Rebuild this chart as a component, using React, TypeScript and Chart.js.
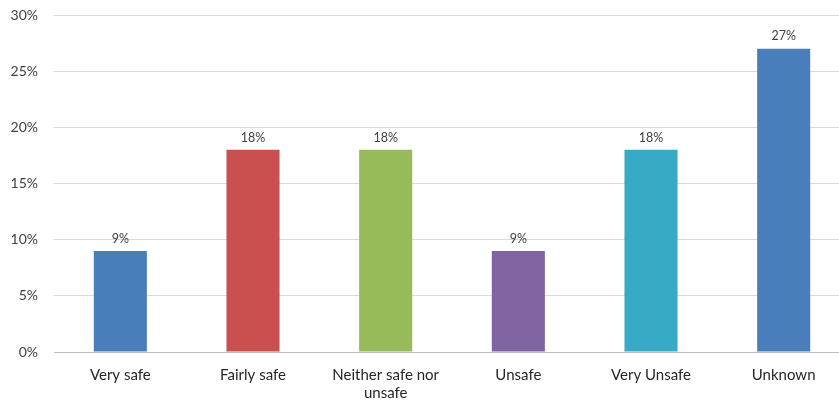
import React, { useEffect, useRef } from "react";
import { Chart, registerables } from "chart.js";

Chart.register(...registerables);

const categories: (string | string[])[] = [
  "Very safe",
  "Fairly safe",
  ["Neither safe nor", "unsafe"],
  "Unsafe",
  "Very Unsafe",
  "Unknown",
];
const values = [9, 18, 18, 9, 18, 27];
const barColors = ["#4a7ebb", "#c9504e", "#97bb5a", "#8064a2", "#37abc6", "#4a7ebb"];
const yTicks = [0, 5, 10, 15, 20, 25, 30];

const FONT = "Lato, 'Open Sans', sans-serif";

const valueLabels = {
  id: "valueLabels",
  afterDatasetsDraw(chart: any) {
    const ctx = chart.ctx;
    const meta = chart.getDatasetMeta(0);
    ctx.save();
    ctx.font = `12.5px ${FONT}`;
    ctx.fillStyle = "#404040";
    ctx.textAlign = "center";
    ctx.textBaseline = "bottom";
    meta.data.forEach((bar: any, i: number) => {
      ctx.fillText(`${values[i]}%`, bar.x, bar.y - 6);
    });
    ctx.restore();
  },
};

export default function App() {
  const ref = useRef<HTMLCanvasElement>(null);
  useEffect(() => {
    if (!ref.current) return;
    const chart = new Chart(ref.current, {
      type: "bar",
      data: {
        labels: categories,
        datasets: [
          {
            data: values,
            backgroundColor: barColors,
            barPercentage: 0.8,
            categoryPercentage: 0.5,
          },
        ],
      },
      options: {
        responsive: false,
        animation: false,
        layout: { padding: { top: 15, left: 0, right: 0, bottom: 0 } },
        plugins: { legend: { display: false }, tooltip: { enabled: false } },
        scales: {
          x: {
            grid: { display: false, drawTicks: false },
            border: { display: true, color: "#bfbfbf", width: 1 },
            ticks: {
              color: "#262626",
              font: { family: FONT, size: 15, lineHeight: 1.2 },
              padding: 14,
              maxRotation: 0,
              autoSkip: false,
            },
            afterFit: (s: any) => {
              s.height = 51;
              s.paddingLeft = 0;
              s.paddingRight = 0;
            },
          },
          y: {
            min: 0,
            max: 30,
            afterBuildTicks: (s: any) => {
              s.ticks = yTicks.map((v) => ({ value: v }));
            },
            grid: { color: "#d9d9d9", drawTicks: false },
            border: { display: false },
            ticks: {
              color: "#404040",
              font: { family: FONT, size: 14 },
              padding: 16,
              callback: (v: any) => `${v}%`,
            },
            afterFit: (s: any) => {
              s.width = 54;
              s.paddingTop = 0;
              s.paddingBottom = 0;
            },
          },
        },
      },
      plugins: [valueLabels],
    });
    return () => chart.destroy();
  }, []);
  return (
    <div
      style={{
        position: "fixed",
        left: 0,
        top: 0,
        width: 839,
        height: 403,
        overflow: "hidden",
        background: "#fff",
      }}
    >
      <canvas ref={ref} width={850} height={403} style={{ display: "block" }} />
    </div>
  );
}
